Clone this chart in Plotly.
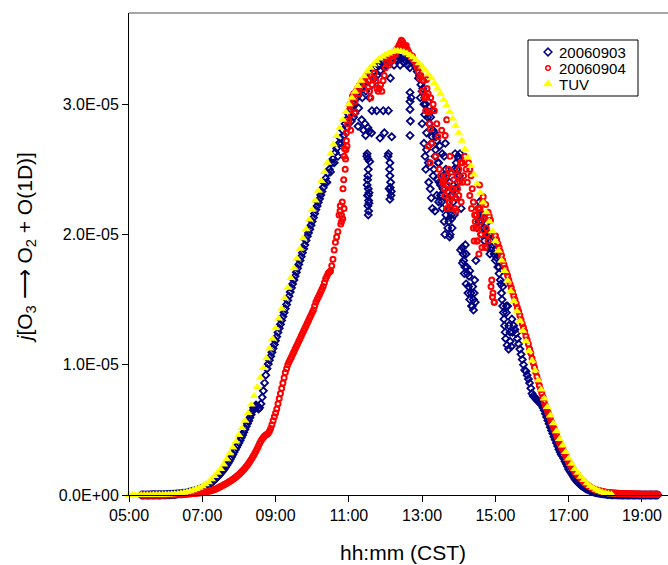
import numpy as np
import plotly.graph_objects as go

# ---------------- data (values in units of 1E-05 s^-1) ----------------
x_tick_vals = [5, 7, 9, 11, 13, 15, 17, 19]
x_tick_text = ["05:00", "07:00", "09:00", "11:00", "13:00", "15:00", "17:00", "19:00"]
y_tick_vals = [0, 1e-5, 2e-5, 3e-5]
y_tick_text = ["0.0E+00", "1.0E-05", "2.0E-05", "3.0E-05"]
series_names = ["20060903", "20060904", "TUV"]

# TUV model, every 5 minutes from 05:00
tuv_start = 5.0
tuv_step_min = 5
tuv_vals = [
    0, 0, 0, 0, 0, 0, 0, 0, 0.001, 0.001, 0.002, 0.002,
    0.003, 0.004, 0.005, 0.008, 0.010, 0.013, 0.018, 0.023, 0.029, 0.037, 0.046, 0.056,
    0.068, 0.082, 0.098, 0.12, 0.145, 0.17, 0.20, 0.235, 0.275, 0.32, 0.365, 0.41,
    0.46, 0.515, 0.57, 0.63, 0.695, 0.76, 0.83, 0.90, 0.975, 1.05, 1.125, 1.20,
    1.28, 1.355, 1.43, 1.51, 1.59, 1.665, 1.74, 1.815, 1.89, 1.97, 2.04, 2.115,
    2.19, 2.26, 2.335, 2.41, 2.48, 2.55, 2.62, 2.69, 2.755, 2.82, 2.88, 2.94,
    3.00, 3.05, 3.095, 3.14, 3.18, 3.215, 3.25, 3.28, 3.305, 3.33, 3.35, 3.365,
    3.38, 3.39, 3.40, 3.41, 3.41, 3.405, 3.40, 3.39, 3.375, 3.36, 3.34, 3.315,
    3.29, 3.26, 3.23, 3.20, 3.16, 3.12, 3.08, 3.035, 2.99, 2.94, 2.89, 2.835,
    2.78, 2.72, 2.655, 2.59, 2.525, 2.46, 2.39, 2.32, 2.245, 2.17, 2.10, 2.025,
    1.95, 1.875, 1.80, 1.72, 1.645, 1.565, 1.49, 1.41, 1.335, 1.26, 1.18, 1.105,
    1.03, 0.955, 0.88, 0.81, 0.74, 0.675, 0.61, 0.55, 0.49, 0.43, 0.38, 0.33,
    0.28, 0.24, 0.20, 0.17, 0.14, 0.115, 0.09, 0.07, 0.055, 0.04, 0.03, 0.022,
    0.015, 0.01, 0.006,
]

# measurements, every 2 minutes from 05:20
meas_start = 5 + 20 / 60
meas_step_min = 2

# 20060903
b_morning = [
    0, 0, 0, 0, 0, 0, 0, 0, 0.001, 0.001, 0.001, 0.001, 0.001, 0.001, 0.001,
    0.001, 0.001, 0.002, 0.002, 0.002, 0.002, 0.003, 0.003, 0.003, 0.004, 0.004, 0.005, 0.005, 0.006, 0.007,
    0.008, 0.009, 0.010, 0.010, 0.011, 0.013, 0.014, 0.016, 0.018, 0.020, 0.022, 0.024, 0.027, 0.029, 0.032,
    0.035, 0.039, 0.042, 0.046, 0.050, 0.054, 0.058, 0.063, 0.068, 0.074, 0.079, 0.085, 0.092, 0.098, 0.107,
    0.116, 0.125, 0.135, 0.145, 0.155, 0.165, 0.176, 0.188, 0.200, 0.214, 0.228, 0.243, 0.259, 0.275, 0.293,
    0.311, 0.329, 0.347, 0.365, 0.383, 0.401, 0.420, 0.440, 0.460, 0.482, 0.504, 0.526, 0.548, 0.570, 0.594,
    0.618, 0.643, 0.669, 0.680, 0.690, 0.680, 0.660, 0.670, 0.700, 0.750, 0.800, 0.860, 0.920, 0.970, 1.005,
    1.035, 1.065, 1.095, 1.125, 1.155, 1.185, 1.215, 1.248, 1.280, 1.310, 1.340, 1.370, 1.400, 1.430, 1.462,
    1.494, 1.526, 1.558, 1.590, 1.620, 1.650, 1.680, 1.710, 1.740, 1.770, 1.800, 1.830, 1.860, 1.890, 1.920,
    1.954, 1.986, 2.012, 2.040, 2.070, 2.100, 2.130, 2.160, 2.190, 2.218, 2.246, 2.274, 2.302, 2.330, 2.360,
]
b_midday = [
    2.395, 2.430, 2.400, 2.470, 2.500, 2.480, 2.550, 2.580, 2.550, 2.630, 2.660, 2.600, 2.700, 2.740, 2.700,
    2.800, 2.760, 2.850, 2.880, 2.820, 2.920, 2.950, 2.870, 2.980, 3.000, 2.930, 3.040, 3.060, 2.970, 3.100,
    3.120, 3.050, 3.150, 3.170, 3.100, 2.620, 2.300, 3.050, 3.220, 3.150, 3.250, 3.200, 3.280, 3.220, 3.300,
    3.300, 3.260, 3.320, 3.340, 3.280, 3.300, 3.350, 2.600, 2.350, 3.200, 3.330, 3.360, 3.300, 3.370, 3.350,
    3.340, 3.360, 3.300, 3.350, 3.370, 3.320, 3.360, 3.330, 3.300, 3.350, 3.280, 3.050, 3.340, 3.320, 3.300,
    3.280, 3.250, 3.200, 3.220, 3.150, 3.100, 3.180, 3.050, 3.000, 2.950, 3.020, 2.850, 2.900, 2.750, 2.800,
    2.780, 2.650, 2.720, 2.550, 2.400, 2.300, 2.250, 2.350, 2.600, 2.700, 2.450, 2.200, 2.100, 2.000, 2.150,
    2.300, 2.500, 2.620, 2.550, 2.400, 2.580, 2.620, 2.200, 1.900, 1.800, 1.750, 1.850, 1.700, 1.600, 1.720,
]
b_afternoon = [
    1.550, 1.450, 1.500, 1.650, 1.800, 2.050, 2.200, 2.250, 2.150, 2.100, 2.150, 2.050, 2.080, 2.020, 1.980,
    2.000, 1.950, 1.900, 1.920, 1.850, 1.800, 1.820, 1.750, 1.700, 1.650, 1.550, 1.450, 1.350, 1.250, 1.400,
    1.450, 1.300, 1.180, 1.140, 1.250, 1.300, 1.270, 1.240, 1.200, 1.160, 1.120, 1.080, 1.040, 1.000, 0.960,
    0.950, 0.920, 0.890, 0.860, 0.820, 0.780, 0.760, 0.750, 0.740, 0.730, 0.720, 0.710, 0.700, 0.690, 0.670,
    0.650, 0.624, 0.598, 0.572, 0.546, 0.520, 0.496, 0.472, 0.448, 0.424, 0.400, 0.376, 0.352, 0.330, 0.310,
    0.300, 0.280, 0.260, 0.240, 0.220, 0.200, 0.185, 0.170, 0.155, 0.140, 0.125, 0.113, 0.102, 0.092, 0.083,
    0.075, 0.068, 0.061, 0.055, 0.049, 0.044, 0.040, 0.036, 0.032, 0.028, 0.025, 0.022, 0.020, 0.018, 0.016,
    0.014, 0.012, 0.011, 0.009, 0.008, 0.007, 0.006, 0.005, 0.004, 0.004, 0.003, 0.003, 0.002, 0.002, 0.002,
    0.002, 0.001, 0.001, 0.001, 0.001, 0.001, 0.001, 0, 0, 0, 0, 0, 0, 0, 0,
    0, 0, 0, 0, 0, 0, 0, 0, 0, 0, 0, 0, 0, 0, 0,
    0, 0, 0, 0,
]
# extra 20060903 readings during cloud passages (hour, value)
b_extra_t = [
    11.13, 11.25, 11.35, 11.40, 11.44, 11.46, 11.52, 11.55, 11.62, 11.63, 11.76, 11.85, 11.94, 11.97, 12.08, 12.17,
    11.49, 11.52, 11.57, 11.53, 11.51, 11.53, 11.51, 11.54, 11.52, 11.54, 11.53, 11.55, 11.55, 11.52, 11.50,
    12.08, 12.12, 12.12, 12.13, 12.15, 12.12, 12.14, 12.11, 12.16,
    12.67, 12.67, 12.67, 12.68, 12.67,
    12.95, 13.00, 13.05, 13.05, 13.08, 13.10, 13.12, 13.15, 13.18, 13.22, 13.25, 13.25, 13.28, 13.30, 13.35,
    13.35, 13.40, 13.45, 13.45, 13.50, 13.55, 13.55, 13.60, 13.62, 13.65, 13.65, 13.70, 13.75, 13.75, 13.80,
    13.85, 13.90, 13.95,
    13.02, 13.07, 13.12, 13.17, 13.20, 13.27, 13.32, 13.38, 13.42, 13.48, 13.52, 13.58, 13.63, 13.68, 13.72,
    13.78, 13.82, 13.88, 13.92, 13.98, 14.02,
    14.05, 14.10, 14.12, 14.15, 14.18, 14.20, 14.22, 14.25, 14.28, 14.30, 14.35, 14.38, 14.40, 14.42, 14.45,
    14.55, 14.62, 14.70, 14.78, 14.85,
    15.05, 15.10, 15.15, 15.18, 15.20, 15.22, 15.25, 15.28, 15.30, 15.32, 15.36, 15.40, 15.45,
]
b_extra_v = [
    2.90, 2.83, 2.88, 2.80, 2.85, 2.76, 2.82, 2.79, 2.78, 2.95, 2.95, 2.74, 2.95, 2.78, 2.95, 2.75,
    2.60, 2.58, 2.56, 2.50, 2.42, 2.35, 2.30, 2.26, 2.22, 2.18, 2.15, 2.24, 2.32, 2.45, 2.38,
    2.62, 2.55, 2.45, 2.36, 2.30, 2.27, 2.40, 2.50, 2.33,
    3.09, 3.02, 2.96, 2.87, 2.76,
    3.05, 2.85, 3.00, 2.70, 2.60, 2.50, 2.65, 2.90, 2.40, 2.35, 2.28, 2.70, 2.20, 2.45, 2.18,
    2.60, 2.30, 2.25, 2.55, 2.38, 2.20, 2.62, 2.10, 2.00, 2.15, 2.50, 2.05, 1.98, 2.40, 2.12,
    2.25, 2.35, 2.50,
    3.12, 2.92, 2.78, 2.55, 2.85, 2.95, 2.50, 2.75, 2.42, 2.68, 2.30, 2.45, 2.35, 2.28, 2.20,
    2.30, 2.05, 2.15, 2.28, 2.60, 2.45,
    1.88, 1.78, 1.85, 1.70, 1.92, 1.62, 1.75, 1.55, 1.68, 1.50, 1.45, 1.60, 1.42, 1.55, 1.48,
    2.10, 2.00, 1.95, 1.90, 1.85,
    1.85, 1.75, 1.62, 1.50, 1.60, 1.40, 1.30, 1.20, 1.45, 1.15, 1.12, 1.25, 1.35,
]

# 20060904
r_morning = [
    0, 0, 0, 0, 0, 0, 0, 0, 0, 0, 0, 0, 0, 0, 0,
    0, 0, 0, 0, 0, 0, 0, 0.001, 0.001, 0.001, 0.002, 0.002, 0.002, 0.003, 0.003,
    0.003, 0.004, 0.004, 0.005, 0.005, 0.006, 0.006, 0.007, 0.008, 0.008, 0.009, 0.010, 0.011, 0.012, 0.013,
    0.014, 0.015, 0.016, 0.017, 0.018, 0.020, 0.021, 0.023, 0.025, 0.027, 0.029, 0.031, 0.033, 0.036, 0.039,
    0.042, 0.046, 0.050, 0.055, 0.060, 0.065, 0.070, 0.075, 0.080, 0.085, 0.090, 0.096, 0.102, 0.108, 0.114,
    0.120, 0.127, 0.134, 0.142, 0.150, 0.158, 0.167, 0.176, 0.186, 0.196, 0.207, 0.219, 0.231, 0.244, 0.258,
    0.272, 0.287, 0.303, 0.320, 0.338, 0.357, 0.377, 0.397, 0.415, 0.430, 0.442, 0.452, 0.460, 0.467, 0.474,
    0.490, 0.510, 0.540, 0.570, 0.600, 0.630, 0.660, 0.700, 0.740, 0.780, 0.820, 0.860, 0.900, 0.940, 0.970,
    1.000, 1.020, 1.040, 1.060, 1.080, 1.100, 1.120, 1.140, 1.160, 1.180, 1.200, 1.220, 1.240, 1.260, 1.280,
    1.300, 1.320, 1.340, 1.360, 1.380, 1.400, 1.420, 1.450, 1.480, 1.500, 1.520, 1.540, 1.560, 1.580, 1.600,
]
r_midday = [
    1.630, 1.660, 1.680, 1.700, 1.710, 1.720, 1.760, 1.810, 1.880, 1.940, 1.980, 2.020, 2.150, 2.220, 2.100,
    2.120, 2.200, 2.500, 2.720, 2.850, 2.950, 3.000, 2.920, 3.050, 3.080, 3.020, 3.100, 3.120, 3.080, 3.150,
    3.150, 3.180, 3.120, 3.200, 3.160, 3.220, 3.180, 3.100, 3.050, 3.150, 3.200, 3.240, 3.180, 3.120, 3.100,
    3.120, 3.150, 3.100, 3.180, 3.220, 3.280, 3.320, 3.350, 3.300, 3.360, 3.380, 3.340, 3.400, 3.380, 3.420,
    3.430, 3.450, 3.470, 3.490, 3.480, 3.460, 3.440, 3.450, 3.420, 3.400, 3.380, 3.360, 3.370, 3.340, 3.330,
    3.300, 3.280, 3.250, 3.200, 3.220, 3.100, 3.180, 3.050, 2.950, 3.120, 3.080, 2.850, 3.050, 2.700, 3.000,
    2.950, 2.600, 2.850, 2.750, 2.500, 2.450, 2.800, 2.400, 2.350, 2.300, 2.450, 2.380, 2.250, 2.200, 2.350,
    2.300, 2.420, 2.280, 2.180, 2.350, 2.500, 2.400, 2.250, 2.550, 2.450, 2.600, 2.500, 2.400, 2.550, 2.500,
]
r_afternoon = [
    2.450, 2.350, 2.250, 2.150, 2.050, 1.950, 2.200, 2.380, 2.100, 1.900, 2.290, 2.150, 2.230, 2.000, 2.170,
    2.140, 2.110, 1.650, 1.550, 1.480, 1.990, 1.960, 1.930, 1.900, 1.870, 1.840, 1.800, 1.770, 1.740, 1.710,
    1.685, 1.650, 1.620, 1.590, 1.560, 1.530, 1.500, 1.470, 1.440, 1.410, 1.380, 1.345, 1.315, 1.285, 1.255,
    1.220, 1.190, 1.160, 1.120, 1.090, 1.050, 1.015, 0.980, 0.945, 0.910, 0.875, 0.840, 0.810, 0.780, 0.750,
    0.710, 0.685, 0.660, 0.635, 0.610, 0.585, 0.560, 0.535, 0.510, 0.485, 0.460, 0.435, 0.410, 0.390, 0.370,
    0.355, 0.335, 0.315, 0.295, 0.275, 0.255, 0.240, 0.225, 0.210, 0.195, 0.180, 0.168, 0.157, 0.146, 0.135,
    0.125, 0.115, 0.105, 0.096, 0.088, 0.080, 0.073, 0.066, 0.060, 0.054, 0.049, 0.045, 0.041, 0.038, 0.035,
    0.032, 0.030, 0.028, 0.026, 0.024, 0.022, 0.021, 0.020, 0.019, 0.018, 0.017, 0.016, 0.015, 0.015, 0.014,
    0.013, 0.013, 0.012, 0.012, 0.011, 0.011, 0.010, 0.010, 0.010, 0.009, 0.009, 0.009, 0.008, 0.008, 0.008,
    0.007, 0.007, 0.007, 0.007, 0.006, 0.006, 0.006, 0.006, 0.006, 0.005, 0.005, 0.005, 0.005, 0.005, 0.005,
    0.005, 0.005, 0.005, 0.005,
]
r_extra_t = [
    10.76, 10.78, 10.80, 10.82, 10.84, 10.86, 10.87, 10.88, 10.91, 10.92, 10.93, 10.95,
    11.00, 11.03, 11.05, 11.10, 11.17,
    13.12, 13.12, 13.17, 13.22, 13.17, 13.22, 13.67, 13.63, 13.76, 13.72,
    13.58, 13.62, 13.68, 13.75, 13.80, 13.85, 13.90, 13.95, 14.00, 14.05, 14.10,
    14.30, 14.35, 14.40, 14.42, 14.45, 14.48, 14.50, 14.52, 14.55, 14.58, 14.60, 14.65, 14.68,
    14.72, 14.75, 14.80, 14.88, 14.92, 14.97,
]
r_extra_v = [
    2.18, 2.08, 2.15, 2.25, 2.35, 2.42, 2.60, 2.66, 2.58, 2.65, 2.78, 2.68,
    2.87, 2.99, 2.80, 3.06, 2.94,
    3.19, 3.06, 2.94, 2.81, 2.68, 2.55, 2.88, 2.76, 2.60, 2.50,
    2.42, 2.30, 2.20, 2.25, 2.48, 2.35, 2.20, 2.45, 2.30, 2.55, 2.40,
    2.30, 2.20, 2.05, 1.95, 2.10, 2.15, 1.95, 2.05, 1.85, 2.20, 2.00, 2.25, 2.12,
    1.90, 2.05, 1.95, 1.60, 1.52, 1.48,
]

UNIT = 1e-5

# ---------------- build series ----------------
b_vals = b_morning + b_midday + b_afternoon
r_vals = r_morning + r_midday + r_afternoon
b_t = list(meas_start + np.arange(len(b_vals)) * meas_step_min / 60) + b_extra_t
r_t = list(meas_start + np.arange(len(r_vals)) * meas_step_min / 60) + r_extra_t
b_v = [v * UNIT for v in b_vals + b_extra_v]
r_v = [v * UNIT for v in r_vals + r_extra_v]
tuv_t = list(tuv_start + np.arange(len(tuv_vals)) * tuv_step_min / 60)
tuv_v = [v * UNIT for v in tuv_vals]

FONT = "Liberation Sans, Arial, sans-serif"
NAVY, RED, YELLOW = "#000080", "#FF0000", "#FFFF00"

blue_marker = dict(symbol="diamond-open", size=5.4, color=NAVY, line=dict(width=1.8, color=NAVY))
red_marker = dict(symbol="circle-open", size=5, color=RED, line=dict(width=2, color=RED))
tuv_marker = dict(symbol="triangle-up", size=8, color=YELLOW, line=dict(width=0))

fig = go.Figure()
fig.add_trace(go.Scatter(x=b_t, y=b_v, mode="markers", name=series_names[0],
                         cliponaxis=False, marker=blue_marker, showlegend=False))
fig.add_trace(go.Scatter(x=r_t, y=r_v, mode="markers", name=series_names[1],
                         cliponaxis=False, marker=red_marker, showlegend=False))
fig.add_trace(go.Scatter(x=tuv_t, y=tuv_v, mode="markers", name=series_names[2],
                         cliponaxis=False, marker=tuv_marker, showlegend=False))

# ---------------- legend (drawn on an overlay axis in plot-area fractions) ----------------
plot_l, plot_t, plot_w, plot_h = 129, 13, 539, 482


def fx(px):
    return (px - plot_l) / plot_w


def fy(py):
    return (plot_t + plot_h - py) / plot_h


leg_rows = [52, 68, 84]
leg_markers = [
    dict(symbol="diamond-open", size=6, color=NAVY, line=dict(width=1.5, color=NAVY)),
    dict(symbol="circle-open", size=4.5, color=RED, line=dict(width=1.5, color=RED)),
    dict(symbol="triangle-up", size=9, color=YELLOW, line=dict(width=0)),
]
for name, row, mk in zip(series_names, leg_rows, leg_markers):
    fig.add_trace(go.Scatter(x=[fx(548)], y=[fy(row)], xaxis="x2", yaxis="y2",
                             mode="markers", marker=mk, showlegend=False, hoverinfo="skip"))

annotations = [
    dict(text="hh:mm (CST)", xref="paper", yref="paper", x=0.508, y=-0.120,
         xanchor="center", yanchor="middle", showarrow=False,
         font=dict(family=FONT, size=21, color="black")),
    dict(text="<i>j</i>[O<sub>3</sub> \u27f6 O<sub>2</sub> + O(1D)]",
         xref="paper", yref="paper", x=-0.191, y=0.512, textangle=-90,
         xanchor="center", yanchor="middle", showarrow=False,
         font=dict(family=FONT, size=21, color="black")),
]
for name, row in zip(series_names, leg_rows):
    annotations.append(dict(text=name, xref="paper", yref="paper", x=fx(557), y=fy(row),
                            xanchor="left", yanchor="middle", showarrow=False,
                            font=dict(family=FONT, size=15, color="black")))

x0 = 5.0
x1 = 5.0 + (668 - 129) / 36.64

fig.update_layout(
    width=668, height=565,
    margin=dict(l=plot_l, r=0, t=plot_t, b=565 - plot_t - plot_h),
    paper_bgcolor="white", plot_bgcolor="white",
    font=dict(family=FONT, size=16, color="black"),
    showlegend=False,
    xaxis=dict(
        range=[x0, x1], tickmode="array", tickvals=x_tick_vals, ticktext=x_tick_text,
        showgrid=False, zeroline=False, showline=True, linecolor="black", linewidth=1,
        ticks="outside", ticklen=6, tickcolor="black", tickfont=dict(size=16),
    ),
    yaxis=dict(
        range=[0, 3.7e-5], tickmode="array", tickvals=y_tick_vals, ticktext=y_tick_text,
        showgrid=False, zeroline=False, showline=True, linecolor="black", linewidth=1,
        ticks="outside", ticklen=6, tickcolor="black", tickfont=dict(size=16),
    ),
    xaxis2=dict(overlaying="x", anchor="y2", range=[0, 1], visible=False, fixedrange=True),
    yaxis2=dict(overlaying="y", anchor="x2", range=[0, 1], visible=False, fixedrange=True),
    shapes=[
        dict(type="line", xref="paper", yref="paper", x0=0, x1=1, y0=1, y1=1,
             line=dict(color="#888888", width=1.5)),
        dict(type="rect", xref="paper", yref="paper", x0=fx(528), x1=fx(638), y0=fy(96), y1=fy(40),
             line=dict(color="black", width=1), fillcolor="white", layer="below"),
    ],
    annotations=annotations,
)

fig.write_html("out.html")
